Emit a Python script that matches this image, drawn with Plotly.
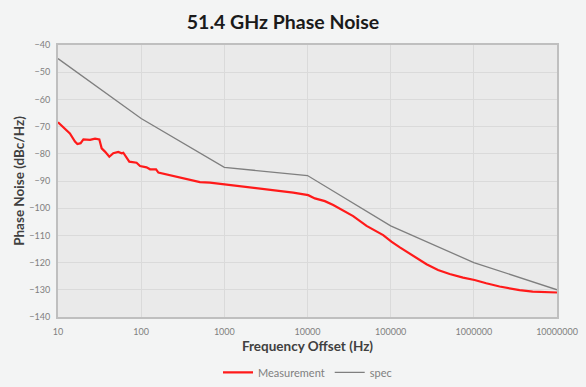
import plotly.graph_objects as go

# Measurement data (Hz, dBc/Hz)
meas_freq = [10, 12.1, 13.9, 16, 17.1, 18.7, 20.2, 24.3, 27.9, 31.4, 33.5, 36.7, 41.4,
             46.2, 53.1, 58.3, 61, 72, 88, 97, 116, 128, 151, 161, 222, 321, 509, 671,
             1000, 1280, 2000, 3220, 5100, 6730, 10200, 12270, 16180, 20400, 35400,
             51300, 81300, 102000, 129000, 186000, 270000, 371000, 512000, 742000,
             1.02e6, 1.41e6, 2.04e6, 3.55e6, 5.1e6, 1e7]
meas_val = [-68.4, -70.6, -72.5, -75.5, -76.4, -76.1, -74.7, -74.9, -74.4, -74.7, -78.0,
            -79.2, -81.1, -79.8, -79.3, -79.8, -79.6, -82.9, -83.3, -84.5, -85.0, -85.7,
            -85.7, -86.9, -87.8, -89.0, -90.4, -90.6, -91.2, -91.8, -92.5, -93.0, -93.7,
            -94.3, -95.2, -96.4, -97.4, -98.8, -102.9, -106.5, -109.9, -112.3, -114.4,
            -117.5, -120.6, -122.7, -124.2, -125.5, -126.4, -127.6, -128.8, -130.1,
            -130.7, -131.0]

# Spec data
spec_freq = [10, 100, 1000, 10000, 100000, 1e6, 1e7]
spec_val = [-45, -67, -85, -88, -106.5, -120, -130]

# Axis ticks
x_tickvals = [10, 100, 1000, 10000, 100000, 1000000, 10000000]
x_ticktext = ["10", "100", "1000", "10000", "100000", "1000000", "10000000"]

FONT = "Lato, 'Open Sans', sans-serif"

fig = go.Figure()
fig.add_trace(go.Scatter(x=meas_freq, y=meas_val, mode="lines", name="Measurement",
                         line=dict(color="#ff1a1a", width=2.2)))
fig.add_trace(go.Scatter(x=spec_freq, y=spec_val, mode="lines", name="spec",
                         line=dict(color="#7f7f7f", width=1.3)))

fig.update_layout(
    width=586, height=387,
    margin=dict(l=58, r=29, t=45, b=70, autoexpand=False),
    paper_bgcolor="#f3f4f4",
    plot_bgcolor="#eaeaea",
    font=dict(family=FONT, color="#7f7f7f", size=10),
    title=dict(text="<b>51.4 GHz Phase Noise</b>", x=0.483, xanchor="center",
               y=1 - 22 / 387, yref="container", yanchor="middle",
               font=dict(family=FONT, size=19.5, color="#1a1a1a")),
    showlegend=True,
    legend=dict(orientation="h", x=0.5, xanchor="center", y=-0.15, yanchor="top",
                font=dict(family=FONT, size=11, color="#7f7f7f"),
                bgcolor="rgba(0,0,0,0)", itemwidth=30, tracegroupgap=0),
)

fig.update_xaxes(
    type="log", range=[1, 7], tickvals=x_tickvals, ticktext=x_ticktext,
    showgrid=True, gridcolor="#dadada", gridwidth=1,
    showline=True, linecolor="#bfbfbf", linewidth=2, mirror=True,
    ticks="", tickfont=dict(size=9, color="#7f7f7f"), automargin=False,
    ticklabelstandoff=5,
    title=dict(text="<b>Frequency Offset (Hz)</b>", standoff=6,
               font=dict(family=FONT, size=13.5, color="#404040")),
    zeroline=False,
)
fig.update_yaxes(
    range=[-140, -40], dtick=10,
    showgrid=True, gridcolor="#dadada", gridwidth=1,
    showline=True, linecolor="#bfbfbf", linewidth=2, mirror=True,
    ticks="", tickfont=dict(size=9, color="#7f7f7f"), automargin=False,
    ticklabelstandoff=4,
    title=dict(text="<b>Phase Noise (dBc/Hz)</b>", standoff=2,
               font=dict(family=FONT, size=13.5, color="#404040")),
    zeroline=False,
)

fig.write_html("out.html", config={"displayModeBar": False},
               post_script="document.body.style.margin='0';")
